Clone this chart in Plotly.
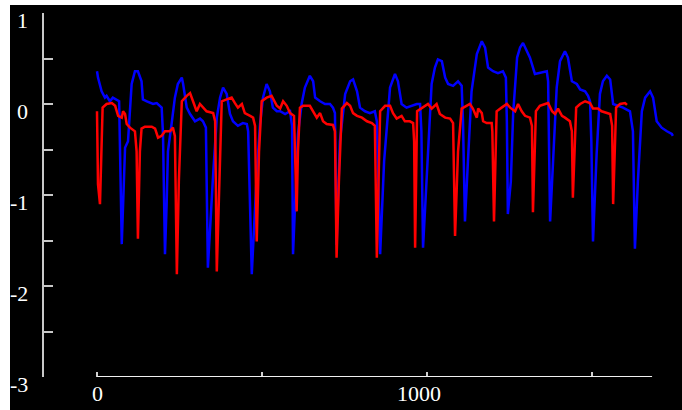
import plotly.graph_objects as go

# Blue series (x sample index, y value)
blue_x = [0, 3, 14, 24, 29, 39, 48, 60, 67, 75, 85, 94, 100, 105, 115, 124, 135, 139, 151, 161,
          170, 181, 191, 196, 200, 206, 211, 215, 226, 236, 245, 257, 261, 272, 282, 297, 312, 321,
          330, 336, 352, 363, 373, 382, 393, 403, 412, 427, 442, 454, 458, 469, 484, 494, 503, 514,
          524, 533, 545, 555, 570, 585, 591, 594, 609, 620, 630, 645, 655, 661, 676, 691, 706, 715,
          721, 726, 736, 752, 767, 776, 788, 797, 812, 827, 842, 848, 858, 870, 888, 903, 912, 923,
          938, 954, 969, 979, 983, 988, 1000, 1009, 1014, 1024, 1033, 1045, 1055, 1064, 1079, 1094,
          1105, 1109, 1115, 1124, 1135, 1151, 1166, 1176, 1185, 1200, 1215, 1230, 1239, 1242, 1245,
          1254, 1261, 1273, 1282, 1291, 1302, 1312, 1327, 1342, 1363, 1367, 1373, 1382, 1393, 1403,
          1418, 1427, 1439, 1454, 1464, 1479, 1488, 1494, 1498, 1503, 1514, 1524, 1533, 1545, 1555,
          1564, 1579, 1594, 1615, 1624, 1630, 1639, 1651, 1661, 1676, 1685, 1696, 1711, 1727, 1742,
          1745]
blue_y = [0.36, 0.29, 0.14, 0.07, 0.09, 0.03, 0.07, 0.05, 0.03, -1.54, -0.48, -0.41, -0.04, 0.22,
          0.36, 0.36, 0.25, 0.05, 0.03, 0.01, 0.0, 0.01, -0.02, -0.04, -0.33, -1.65, -1.10, -0.52,
          -0.22, 0.07, 0.22, 0.29, 0.22, -0.04, -0.11, -0.19, -0.16, -0.19, -0.26, -1.80, -0.77,
          -0.15, 0.07, 0.18, 0.11, -0.11, -0.19, -0.24, -0.21, -0.22, -0.30, -1.87, -0.77, -0.22,
          0.07, 0.22, 0.14, -0.04, -0.08, -0.08, -0.11, -0.08, -0.24, -1.65, -0.33, 0.0, 0.18, 0.31,
          0.25, 0.07, 0.03, 0.0, 0.0, -0.04, -0.10, -1.55, -0.41, 0.11, 0.25, 0.27, 0.14, -0.04,
          -0.08, -0.10, -0.08, -0.19, -1.65, -0.63, 0.18, 0.33, 0.25, 0.0, -0.04, -0.02, 0.0, 0.0,
          -0.30, -1.58, -0.74, -0.04, 0.22, 0.40, 0.49, 0.47, 0.29, 0.22, 0.20, 0.25, 0.20, -0.19,
          -1.29, -0.63, 0.14, 0.55, 0.69, 0.62, 0.40, 0.36, 0.34, 0.36, 0.29, -0.19, -1.21, -0.85,
          -0.11, 0.51, 0.62, 0.67, 0.58, 0.51, 0.33, 0.34, 0.36, 0.25, -1.29, -0.63, 0.18, 0.47,
          0.58, 0.51, 0.25, 0.22, 0.16, 0.14, 0.09, 0.03, -0.41, -1.51, -0.55, 0.11, 0.25, 0.31,
          0.27, 0.0, -0.02, -0.04, -0.08, -0.30, -1.59, -0.85, -0.08, 0.07, 0.14, 0.07, -0.19,
          -0.26, -0.30, -0.33, -0.35]

# Red series
red_x = [0, 3, 9, 14, 17, 29, 45, 55, 64, 75, 79, 85, 90, 100, 115, 120, 124, 130, 135, 145, 166,
         176, 185, 196, 206, 221, 230, 236, 242, 248, 257, 272, 282, 291, 302, 312, 321, 332, 352,
         358, 363, 370, 378, 393, 408, 418, 427, 439, 448, 464, 473, 479, 484, 491, 499, 514, 529,
         545, 555, 564, 575, 585, 597, 605, 609, 615, 624, 645, 655, 666, 676, 685, 696, 715, 721,
         726, 733, 742, 757, 767, 776, 788, 803, 818, 833, 842, 848, 853, 858, 873, 888, 897, 908,
         923, 933, 948, 958, 961, 964, 970, 988, 1003, 1014, 1029, 1039, 1055, 1070, 1079, 1085,
         1094, 1105, 1120, 1130, 1139, 1151, 1155, 1166, 1170, 1181, 1196, 1198, 1203, 1207, 1211,
         1226, 1242, 1252, 1267, 1276, 1287, 1297, 1312, 1318, 1321, 1330, 1342, 1358, 1367, 1379,
         1388, 1397, 1409, 1418, 1433, 1439, 1442, 1452, 1464, 1479, 1494, 1503, 1518, 1529, 1545,
         1555, 1561, 1564, 1573, 1585, 1600, 1606]
red_y = [-0.08, -0.88, -1.10, -0.30, -0.04, 0.0, 0.01, -0.02, -0.13, -0.15, -0.08, -0.11, -0.22,
         -0.26, -0.30, -0.52, -1.48, -0.52, -0.27, -0.25, -0.25, -0.27, -0.37, -0.35, -0.30, -0.30,
         -0.26, -0.35, -1.87, -0.85, 0.03, 0.09, 0.12, 0.03, -0.08, 0.0, -0.04, -0.08, -0.10, -0.19,
         -1.84, -0.85, 0.03, 0.05, 0.07, 0.01, -0.04, 0.0, -0.10, -0.13, -0.15, -0.24, -1.51, -0.52,
         0.03, 0.07, 0.09, -0.02, -0.05, 0.03, -0.02, -0.10, -0.13, -1.18, -0.52, -0.04, -0.02,
         -0.02, -0.08, -0.15, -0.10, -0.19, -0.22, -0.23, -0.30, -1.69, -0.85, -0.05, 0.01, -0.02,
         -0.10, -0.13, -0.15, -0.19, -0.21, -0.24, -1.69, -0.74, -0.08, -0.02, -0.02, -0.10, -0.16,
         -0.13, -0.19, -0.19, -0.21, -0.41, -1.58, -0.08, -0.04, 0.0, -0.05, 0.0, -0.11, -0.15,
         -0.16, -0.21, -1.45, -0.52, -0.05, -0.02, 0.0, -0.05, -0.15, -0.05, -0.10, -0.19, -0.21,
         -0.21, -0.30, -1.29, -0.63, -0.08, -0.04, 0.0, -0.04, -0.08, 0.0, -0.08, -0.13, -0.15,
         -0.24, -1.19, -0.08, -0.02, 0.0, 0.01, -0.08, -0.11, -0.05, -0.13, -0.15, -0.19, -0.30,
         -1.03, -0.04, 0.0, 0.03, 0.01, -0.05, -0.05, -0.08, -0.10, -0.11, -0.24, -1.10, -0.04, 0.0,
         0.01, -0.01]

x_tick_vals = [0, 500, 1000, 1500]
x_label_vals = [0, 1000]
x_label_text = ["0", "1000"]
y_tick_vals = [-3, -2.5, -2, -1.5, -1, -0.5, 0, 0.5, 1]
y_label_vals = [-3, -2, -1, 0, 1]
y_label_text = ["-3", "-2", "-1", "0", "1"]
x_axis_end = 1682

W, H = 682, 410
ML, MR, MT, MB = 44, 0, 13, 33
pw, ph = W - ML - MR, H - MT - MB

fig = go.Figure()
fig.add_trace(go.Scatter(x=blue_x, y=blue_y, mode="lines",
                         line=dict(color="#0000ff", width=2.5), showlegend=False))
fig.add_trace(go.Scatter(x=red_x, y=red_y, mode="lines",
                         line=dict(color="#ff0000", width=2.5), showlegend=False))

font = dict(family="Liberation Serif", size=22, color="#ffffff")

fig.update_layout(
    width=W, height=H,
    margin=dict(l=ML, r=MR, t=MT, b=MB, pad=0),
    paper_bgcolor="#000000", plot_bgcolor="#000000",
    showlegend=False,
    xaxis=dict(range=[-160.6, 1772.7], showgrid=False, zeroline=False, showline=False,
               ticks="inside", ticklen=5, tickwidth=2, tickcolor="#d0d0d0",
               tickvals=x_tick_vals, showticklabels=False),
    yaxis=dict(range=[-3, 1], showgrid=False, zeroline=False, showline=True,
               linecolor="#c8c8c8", linewidth=2,
               ticks="inside", ticklen=9, tickwidth=2, tickcolor="#c8c8c8",
               tickvals=y_tick_vals, showticklabels=False),
)

def px_to_paper_x(p):
    return (p - ML) / pw

def py_to_paper_y(p):
    return (H - MB - p) / ph

# tick labels as text annotations (positioned like the original)
for v, t in zip(y_label_vals, y_label_text):
    fig.add_annotation(x=px_to_paper_x(29), xref="paper", y=v, yref="y", text=t,
                       showarrow=False, xanchor="right", yanchor="middle", yshift=-7,
                       font=font, borderpad=0)
x_label_shift = [0, -8]
for v, t, s in zip(x_label_vals, x_label_text, x_label_shift):
    fig.add_annotation(x=v, xref="x", y=py_to_paper_y(393), yref="paper", text=t,
                       showarrow=False, xanchor="center", yanchor="middle", xshift=s,
                       font=font, borderpad=0)

# x axis line (only spans the data extent)
fig.add_shape(type="line", xref="x", yref="y", x0=0, x1=x_axis_end, y0=-3, y1=-3,
              line=dict(color="#f0f0f0", width=2), layer="above")

# white frame on the left and top edges
fig.add_shape(type="rect", xref="paper", yref="paper",
              x0=px_to_paper_x(-2), x1=px_to_paper_x(10),
              y0=py_to_paper_y(H + 2), y1=py_to_paper_y(-2),
              line=dict(width=0), fillcolor="#ffffff", layer="above")
fig.add_shape(type="rect", xref="paper", yref="paper",
              x0=px_to_paper_x(-2), x1=px_to_paper_x(W + 2),
              y0=py_to_paper_y(5), y1=py_to_paper_y(-2),
              line=dict(width=0), fillcolor="#ffffff", layer="above")

fig.write_html("out.html")
